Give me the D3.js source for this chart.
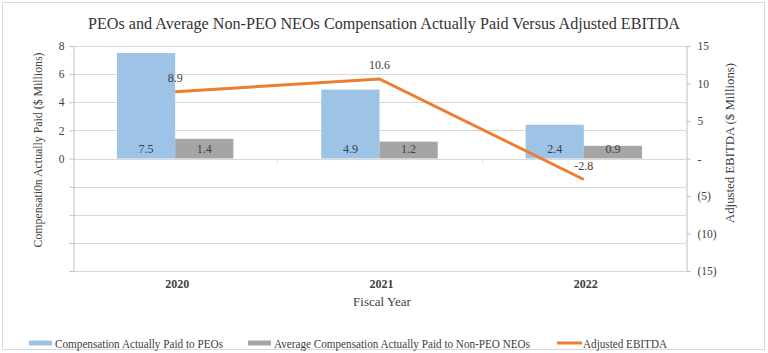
<!DOCTYPE html>
<html>
<head>
<meta charset="utf-8">
<script src="https://cdn.jsdelivr.net/npm/d3@7"></script>
<style>
  body { margin: 0; background: #fff; }
  svg text { font-family: "Liberation Serif", "Times New Roman", serif; fill: #404040; }
</style>
</head>
<body>
<svg id="chart" width="768" height="353"></svg>
<script>
// data
const years = ['2020', '2021', '2022']
const peoPaid = [7.5, 4.9, 2.4]
const neoPaid = [1.4, 1.2, 0.9]
const ebitda = [8.9, 10.6, -2.8]
const leftTicks = [-8, -6, -4, -2, 0, 2, 4, 6, 8]
const rightTicks = [-15, -10, -5, 0, 5, 10, 15]
const legendNames = ['Compensation Actually Paid to PEOs', 'Average Compensation Actually Paid to Non-PEO NEOs', 'Adjusted EBITDA']

const colors = { peo: '#9dc3e6', neo: '#a5a5a5', line: '#ed7d31', grid: '#d9d9d9', axis: '#bfbfbf' }

const svg = d3.select('#chart')
const plot = { left: 73, right: 686, top: 46, bottom: 271 }

// outer frame
svg.append('rect')
  .attr('x', 2.5).attr('y', 2.5).attr('width', 762).attr('height', 347)
  .attr('fill', '#fff').attr('stroke', colors.grid)

svg.append('text')
  .attr('x', 384).attr('y', 29)
  .attr('text-anchor', 'middle')
  .attr('textLength', 592).attr('lengthAdjust', 'spacingAndGlyphs')
  .style('font-size', '17px')
  .style('fill', '#333')
  .text('PEOs and Average Non-PEO NEOs Compensation Actually Paid Versus Adjusted EBITDA')

const x = d3.scaleBand().domain(years).range([plot.left, plot.right])
const yL = d3.scaleLinear().domain([-8, 8]).range([plot.bottom, plot.top])
const yR = d3.scaleLinear().domain([-15, 15]).range([plot.bottom, plot.top])
const barW = x.bandwidth() * 0.285

// gridlines
svg.append('g')
  .selectAll('line')
  .data(leftTicks)
  .join('line')
  .attr('x1', plot.left).attr('x2', plot.right)
  .attr('y1', d => Math.round(yL(d)) + 0.5).attr('y2', d => Math.round(yL(d)) + 0.5)
  .attr('stroke', colors.grid)

// left axis
const leftAxis = svg.append('g')
  .attr('transform', `translate(${plot.left + 0.5},0)`)
  .call(d3.axisLeft(yL).tickValues(leftTicks).tickSize(4).tickSizeOuter(0)
    .tickFormat(d => d >= 0 ? d : ''))
leftAxis.select('.domain').attr('stroke', colors.axis)
leftAxis.selectAll('.tick line').attr('stroke', colors.axis)
leftAxis.selectAll('.tick text').attr('x', -9).style('font-size', '11.5px').style('font-family', '"Liberation Serif", serif')

// right axis
const rightAxis = svg.append('g')
  .attr('transform', `translate(${plot.right + 0.5},0)`)
  .call(d3.axisRight(yR).tickValues(rightTicks).tickSize(4).tickSizeOuter(0)
    .tickFormat(d => d === 0 ? '-' : d < 0 ? `(${-d})` : d))
rightAxis.select('.domain').attr('stroke', colors.axis)
rightAxis.selectAll('.tick line').attr('stroke', colors.axis)
rightAxis.selectAll('.tick text').attr('x', 11).style('font-size', '11.5px').style('font-family', '"Liberation Serif", serif')

// category ticks on the zero line
svg.append('g')
  .selectAll('line')
  .data(years.slice(1))
  .join('line')
  .attr('x1', d => Math.round(x(d)) + 0.5).attr('x2', d => Math.round(x(d)) + 0.5)
  .attr('y1', yL(0)).attr('y2', yL(0) + 4)
  .attr('stroke', colors.grid)

// bars
const groups = svg.append('g')
  .selectAll('g')
  .data(years.map((yr, i) => ({ yr, peo: peoPaid[i], neo: neoPaid[i] })))
  .join('g')
  .attr('transform', d => `translate(${x(d.yr) + x.bandwidth() / 2},0)`)

groups.append('rect')
  .attr('x', -barW).attr('width', barW)
  .attr('y', d => yL(d.peo)).attr('height', d => yL(0) - yL(d.peo))
  .attr('fill', colors.peo)
groups.append('rect')
  .attr('x', 0).attr('width', barW)
  .attr('y', d => yL(d.neo)).attr('height', d => yL(0) - yL(d.neo))
  .attr('fill', colors.neo)

groups.append('text')
  .attr('x', -barW / 2).attr('y', yL(0) - 6)
  .attr('text-anchor', 'middle').style('font-size', '12px')
  .text(d => d.peo.toFixed(1))
groups.append('text')
  .attr('x', barW / 2).attr('y', yL(0) - 6)
  .attr('text-anchor', 'middle').style('font-size', '12px')
  .text(d => d.neo.toFixed(1))

// EBITDA line
const lineData = years.map((yr, i) => ({ yr, v: ebitda[i] }))
svg.append('path')
  .datum(lineData)
  .attr('fill', 'none')
  .attr('stroke', colors.line)
  .attr('stroke-width', 3)
  .attr('d', d3.line().x(d => x(d.yr) + x.bandwidth() / 2).y(d => yR(d.v)))

svg.append('g')
  .selectAll('text')
  .data(lineData)
  .join('text')
  .attr('x', d => x(d.yr) + x.bandwidth() / 2)
  .attr('y', d => yR(d.v) - 10)
  .attr('text-anchor', 'middle').style('font-size', '12px')
  .text(d => d.v.toFixed(1))

// category labels
svg.append('g')
  .selectAll('text')
  .data(years)
  .join('text')
  .attr('x', d => x(d) + x.bandwidth() / 2 + 2)
  .attr('y', 288)
  .attr('text-anchor', 'middle')
  .style('font-size', '12px').style('font-weight', 'bold')
  .text(d => d)

svg.append('text')
  .attr('x', 382).attr('y', 306)
  .attr('text-anchor', 'middle').style('font-size', '13px')
  .text('Fiscal Year')

svg.append('text')
  .attr('transform', 'translate(42,150) rotate(-90)')
  .attr('text-anchor', 'middle').style('font-size', '13px')
  .attr('textLength', 195).attr('lengthAdjust', 'spacingAndGlyphs')
  .text('Compensati0n Actually Paid ($ Millions)')

svg.append('text')
  .attr('transform', 'translate(734,143) rotate(-90)')
  .attr('text-anchor', 'middle').style('font-size', '13px')
  .attr('textLength', 160).attr('lengthAdjust', 'spacingAndGlyphs')
  .text('Adjusted EBITDA ($ Millions)')

// legend
const legendX = [29, 248, 557]
const legendLen = [168, 256, 84]
const legend = svg.append('g')
  .selectAll('g')
  .data(legendNames)
  .join('g')
  .attr('transform', (d, i) => `translate(${legendX[i]},343)`)

legend.each(function (d, i) {
  const g = d3.select(this)
  if (i < 2) {
    g.append('rect').attr('x', 0).attr('y', -2.5).attr('width', 23).attr('height', 5)
      .attr('fill', i === 0 ? colors.peo : colors.neo)
  } else {
    g.append('line').attr('x1', 0).attr('x2', 25).attr('y1', 0).attr('y2', 0)
      .attr('stroke', colors.line).attr('stroke-width', 3)
  }
  g.append('text').attr('x', 26).attr('y', 4.5)
    .style('font-size', '12.5px')
    .attr('textLength', legendLen[i]).attr('lengthAdjust', 'spacingAndGlyphs')
    .text(d)
})
</script>
</body>
</html>
